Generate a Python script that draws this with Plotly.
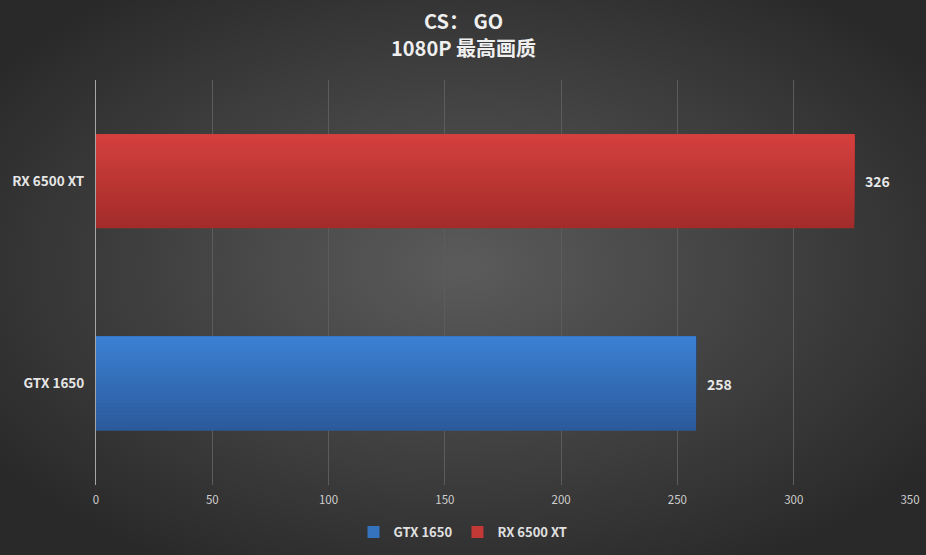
import base64
import plotly.graph_objects as go

# chart data
gpus = ['GTX 1650', 'RX 6500 XT']
fps = [258, 326]
# (top colour, bottom colour) of each bar's vertical gradient
bar_gradients = [('#3b80d2', '#2b5a9b'), ('#d3403d', '#a32c2a')]
x_ticks = [0, 50, 100, 150, 200, 250, 300, 350]

W, H = 926, 555
ML, MR, MT, MB = 96, 16, 80, 70
BAR_WIDTH = 0.465
SLICES = 24

font_family = 'Noto Sans CJK SC, Noto Sans, sans-serif'


def mix(c1, c2, t):
    a = [int(c1[i:i + 2], 16) for i in (1, 3, 5)]
    b = [int(c2[i:i + 2], 16) for i in (1, 3, 5)]
    return '#' + ''.join(f'{round(x + (y - x) * t):02x}' for x, y in zip(a, b))


# radial background, lighter in the middle
bg_svg = f'''<svg xmlns="http://www.w3.org/2000/svg" width="{W}" height="{H}">
<defs><radialGradient id="g" cx="50%" cy="48%" r="62%">
<stop offset="0%" stop-color="#5b5b5b"/><stop offset="100%" stop-color="#292929"/>
</radialGradient></defs>
<rect width="{W}" height="{H}" fill="url(#g)"/></svg>'''
bg_uri = 'data:image/svg+xml;base64,' + base64.b64encode(bg_svg.encode()).decode()

pw, ph = W - ML - MR, H - MT - MB

fig = go.Figure()
# each bar is drawn as nested slices (bottom first) to get the top-to-bottom gradient
for name, value, (top, bottom) in zip(gpus, fps, bar_gradients):
    step = BAR_WIDTH / SLICES
    for i in reversed(range(SLICES)):
        t = i / (SLICES - 1)
        fig.add_trace(go.Bar(
            y=[name], x=[value], orientation='h',
            width=(i + 1) * step, offset=BAR_WIDTH / 2 - (i + 1) * step,
            marker=dict(color=mix(top, bottom, t), line=dict(width=0)),
            name=name, legendgroup=name, showlegend=(i == SLICES // 3),
            hoverinfo='skip' if i else None,
        ))
    fig.add_annotation(x=value, y=name, text=f'<b>{value}</b>', showarrow=False,
                       xanchor='left', xshift=9,
                       font=dict(size=14, color='#e8e8e8', family=font_family))

title_x = 0.5 + (MR - ML) / 2 / pw
fig.add_annotation(xref='paper', yref='paper', x=title_x, y=1 + 60 / ph,
                   text='<b>CS： GO</b>', showarrow=False, xanchor='center', yanchor='middle',
                   font=dict(size=20, color='#efefef', family=font_family))
fig.add_annotation(xref='paper', yref='paper', x=title_x, y=1 + 32 / ph,
                   text='<b>1080P 最高画质</b>', showarrow=False, xanchor='center',
                   yanchor='middle',
                   font=dict(size=20, color='#efefef', family=font_family))

fig.update_layout(
    width=W, height=H,
    margin=dict(l=ML, r=MR, t=MT, b=MB, autoexpand=False),
    paper_bgcolor='#3a3a3a',
    plot_bgcolor='rgba(0,0,0,0)',
    images=[dict(source=bg_uri, xref='paper', yref='paper', x=-ML / pw, y=1 + MT / ph,
                 sizex=W / pw, sizey=H / ph, sizing='stretch', layer='below',
                 xanchor='left', yanchor='top')],
    barmode='overlay',
    showlegend=True,
    legend=dict(orientation='h', x=title_x, xanchor='center',
                y=-47 / ph, yanchor='middle',
                font=dict(size=13, color='#e0e0e0', family=font_family, weight='bold'),
                itemwidth=30, traceorder='normal', bgcolor='rgba(0,0,0,0)'),
    xaxis=dict(range=[0, 350], tickvals=x_ticks, showgrid=True, gridcolor='#5c5c5c',
               gridwidth=1, zeroline=False, showline=False, ticks='', automargin=False,
               ticklabelstandoff=6,
               tickfont=dict(size=11.5, color='#cfcfcf', family=font_family)),
    yaxis=dict(categoryorder='array', categoryarray=gpus, range=[-0.5, 1.5],
               showline=True, linecolor='#a6a6a6', linewidth=1, ticks='',
               ticklabelstandoff=8, automargin=False,
               tickfont=dict(size=13.5, color='#e6e6e6', family=font_family, weight='bold')),
)

fig.write_html('out.html', config={'displayModeBar': False},
               post_script="document.body.style.margin='0';")
